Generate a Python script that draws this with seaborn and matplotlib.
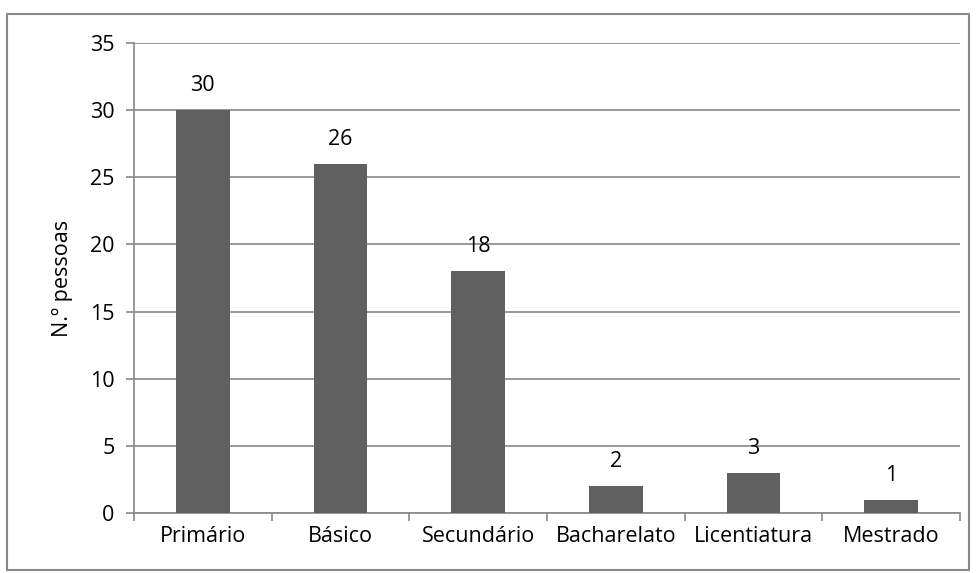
import matplotlib
matplotlib.use("Agg")
import matplotlib.pyplot as plt
import seaborn as sns
import pandas as pd
from matplotlib.patches import Rectangle

categories = ["Primário", "Básico", "Secundário", "Bacharelato", "Licentiatura", "Mestrado"]
values = [30, 26, 18, 2, 3, 1]
y_ticks = [0, 5, 10, 15, 20, 25, 30, 35]

sns.set_theme(style="white")
plt.rcParams["font.family"] = ["Open Sans", "DejaVu Sans"]

df = pd.DataFrame({"nivel": categories, "pessoas": values})

fig = plt.figure(figsize=(9.77, 5.73), dpi=100)
ax = fig.add_axes([134 / 977, 1 - 513 / 573, 826 / 977, 470 / 573])

sns.barplot(data=df, x="nivel", y="pessoas", color="#606060", saturation=1,
            width=0.39, linewidth=0, ax=ax, zorder=3)

grid_c = "#888888"
fs = 15.5
ax.set_ylim(0, 35)
ax.set_xlim(-0.5, len(categories) - 0.5)
ax.set_yticks(y_ticks)
ax.yaxis.grid(True, color=grid_c, linewidth=1.2, zorder=0)
ax.set_axisbelow(True)

for s in ["top", "right"]:
    ax.spines[s].set_visible(False)
for s in ["left", "bottom"]:
    ax.spines[s].set_color(grid_c)
    ax.spines[s].set_linewidth(1.2)

# major ticks at category boundaries, labels centred under each bar
ax.set_xticks([i - 0.5 for i in range(len(categories) + 1)], minor=False)
ax.set_xticklabels([])
ax.set_xticks(range(len(categories)), minor=True)
ax.set_xticklabels(categories, minor=True)
ax.tick_params(axis="x", which="major", direction="out", length=6, width=1.2,
               color=grid_c, bottom=True)
ax.tick_params(axis="x", which="minor", length=0, pad=9, labelsize=fs,
               labelcolor="black")
ax.tick_params(axis="y", direction="out", length=6, width=1.2, color=grid_c,
               left=True, labelsize=fs, labelcolor="black", pad=8)

ax.set_xlabel("")
ax.set_ylabel("N.º pessoas", fontsize=fs, color="black", labelpad=12)

for i, v in enumerate(values):
    ax.annotate(f"{v}", (i, v), xytext=(0, 10), textcoords="offset points",
                ha="center", va="bottom", fontsize=fs, color="black")

fig.patches.append(Rectangle((7 / 977, 3 / 573), 962 / 977, 556 / 573,
                             transform=fig.transFigure, fill=False,
                             edgecolor="#888888", linewidth=1.5))

fig.savefig("out.png", dpi=100, facecolor="white")
